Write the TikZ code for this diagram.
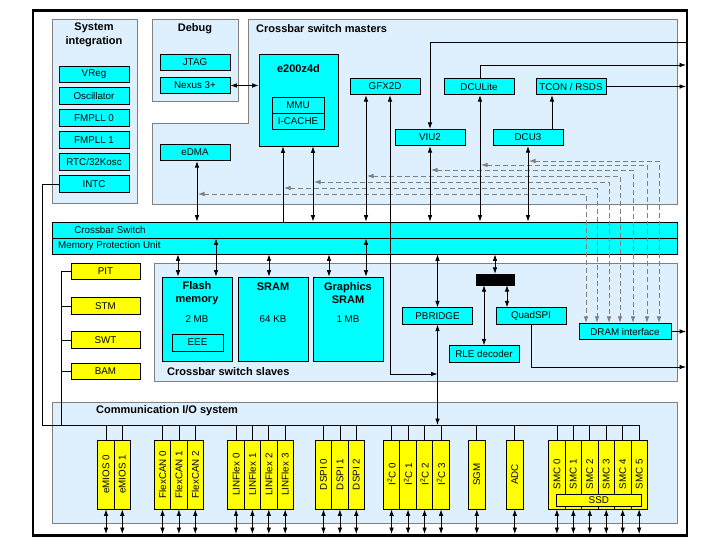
\documentclass[tikz,border=0pt]{standalone}
\usepackage{fontspec}
\setmainfont{Liberation Sans}
\usetikzlibrary{arrows.meta}
\definecolor{panelblue}{RGB}{222,239,253}
\definecolor{pgray}{RGB}{128,128,128}
\definecolor{boxcyan}{RGB}{0,255,255}
\definecolor{boxyellow}{RGB}{255,255,0}
\newcommand{\iomod}[3]{%
  \node[modbox] (#1) at (#2,474.5) {};
  \node[rotate=90] at (#1) {#3};
  \draw[conn] (#1.north |- bl) -- (#1.north);
  \draw[conn,<->] (#1.south) -- (#1.south |- fb);}
\begin{document}
\begin{tikzpicture}[x=1pt,y=-1pt,
  >={Latex[length=6.5pt,width=4.6pt]},
  every node/.style={font=\fontsize{9.8}{11}\selectfont, inner sep=0pt},
  cbox/.style={draw, fill=boxcyan, line width=0.8pt, minimum width=70pt, minimum height=16.5pt},
  ybox/.style={draw, fill=boxyellow, line width=0.8pt, minimum width=69pt, minimum height=16.5pt},
  modbox/.style={draw, fill=boxyellow, line width=0.8pt, minimum width=16.4pt, minimum height=69pt},
  panel/.style={draw=pgray, fill=panelblue, line width=0.8pt},
  ptitle/.style={font=\fontsize{11}{14}\selectfont\bfseries, align=center},
  conn/.style={line width=0.8pt},
  dline/.style={draw=pgray, dash pattern=on 5pt off 3pt, line width=0.8pt}]
\fill[white] (0,0) rectangle (715,545);
\useasboundingbox (0,0) rectangle (715,545);

% panels
\draw[panel] (52,19) rectangle (137,203);
\draw[panel] (152,19) rectangle (238,101);
\draw[panel] (248,19) -- (677,19) -- (677,204) -- (152,204) -- (152,123) -- (248,123) -- cycle;
\draw[panel] (154,263) rectangle (677,381);
\draw[panel] (52,402) rectangle (677,523);

% titles
\node[ptitle] (tsys) at (94,35) {System\\integration};
\node[ptitle] (tdbg) at (195,29) {Debug};
\node[ptitle, anchor=west] (tmas) at (256,29) {Crossbar switch masters};
\node[ptitle, anchor=west] (tsla) at (167,372) {Crossbar switch slaves};
\node[ptitle, anchor=west] (tcom) at (96,411) {Communication I/O system};

% system integration
\node[cbox] (vreg) at (94,74.5) {VReg};
\node[cbox] (osc) at (94,96) {Oscillator};
\node[cbox] (pll0) at (94,118) {FMPLL 0};
\node[cbox] (pll1) at (94,140) {FMPLL 1};
\node[cbox] (rtc) at (94,162) {RTC/32Kosc};
\node[cbox] (intc) at (94,184) {INTC};

% debug
\node[cbox] (jtag) at (195,62.5) {JTAG};
\node[cbox] (nexus) at (195,85.5) {Nexus 3+};

% masters
\node[cbox, minimum width=79pt, minimum height=92pt] (e200) at (298.5,100) {};
\node[font=\fontsize{11}{13}\selectfont\bfseries] (e200t) at (298.5,69) {e200z4d};
\node[cbox, minimum width=52pt, minimum height=16pt] (mmu) at (298,105) {MMU};
\node[cbox, minimum width=52pt, minimum height=16pt] (icache) at (298,121) {I-CACHE};
\node[cbox] (gfx) at (385,86.5) {GFX2D};
\node[cbox] (dculite) at (479,86.5) {DCULite};
\node[cbox] (tcon) at (571,86.5) {TCON / RSDS};
\node[cbox] (viu) at (430,137.5) {VIU2};
\node[cbox] (dcu3) at (528,137.5) {DCU3};
\node[cbox] (edma) at (195,152.5) {eDMA};

% crossbar
\node[cbox, minimum width=625pt, minimum height=16pt] (xbar) at (364.5,230) {};
\node[cbox, minimum width=625pt, minimum height=16pt] (mpu) at (364.5,246) {};
\node (xbart) at (110,230) {Crossbar Switch};
\node[anchor=west] (mput) at (58,246) {Memory Protection Unit};

% slaves
\node[cbox, minimum width=70pt, minimum height=84pt] (flash) at (197,319) {};
\node[ptitle, font=\fontsize{11}{13}\selectfont\bfseries] (flasht) at (197,293.5) {Flash\\memory};
\node (flashs) at (197,319) {2 MB};
\node[cbox, minimum width=51pt, minimum height=17pt] (eee) at (197.5,342.5) {EEE};
\node[cbox, minimum width=70pt, minimum height=84pt] (sram) at (273,319) {};
\node[font=\fontsize{11}{13}\selectfont\bfseries] (sramt) at (273,287) {SRAM};
\node (srams) at (273,319) {64 KB};
\node[cbox, minimum width=70pt, minimum height=84pt] (gsram) at (348,319) {};
\node[ptitle, font=\fontsize{11}{13}\selectfont\bfseries] (gsramt) at (348,293.5) {Graphics\\SRAM};
\node (gsrams) at (348,319) {1 MB};
\node[cbox] (pbridge) at (437.5,316) {PBRIDGE};
\node[cbox] (rle) at (484,354) {RLE decoder};
\node[cbox] (qspi) at (531,316) {QuadSPI};
\node[cbox, minimum width=92pt] (dram) at (625,331.5) {DRAM interface};
\node[draw, fill=black, minimum width=38pt, minimum height=11pt] (bar) at (495,279.5) {};

% left yellow boxes
\node[ybox] (pit) at (105.5,271.5) {PIT};
\node[ybox] (stm) at (105.5,306) {STM};
\node[ybox] (swt) at (105.5,340) {SWT};
\node[ybox] (bam) at (105.5,371.5) {BAM};

% coordinates
\coordinate (rf) at (686,0);
\coordinate (bl) at (42,425);
\coordinate (pb) at (61,425);
\coordinate (br) at (639.2,425);
\coordinate (fb) at (0,534);
\coordinate (viuin) at (686,42);
\coordinate (dcuout) at (686,65);
\coordinate (qsout) at (686,367);
\coordinate (gfxturn) at (437.5,374);

% dashed DRAM paths
\coordinate (d1) at (198,194);
\coordinate (d2) at (284,188);
\coordinate (d3) at (314,182);
\coordinate (d4) at (367,176);
\coordinate (d5) at (431,170);
\coordinate (d6) at (481,165);
\coordinate (d7) at (529,161);
\draw[dline,<->] (d1) -| ([xshift=-39pt]dram.north);
\draw[dline,<->] (d2) -| ([xshift=-28pt]dram.north);
\draw[dline,<->] (d3) -| ([xshift=-16pt]dram.north);
\draw[dline,<->] (d4) -| ([xshift=-5pt]dram.north);
\draw[dline,<->] (d5) -| ([xshift=8pt]dram.north);
\draw[dline,<->] (d6) -| ([xshift=22pt]dram.north);
\draw[dline,<->] (d7) -| ([xshift=34pt]dram.north);

% master connections
\draw[conn,<->] (nexus.east) -- (nexus.east -| e200.west);
\draw[conn,->] (viuin) -| (viu.north);
\draw[conn,->] ([xshift=1pt]dculite.north) |- (dcuout);
\draw[conn,->] (tcon.east) -- (tcon.east -| rf);
\draw[conn,->] ([xshift=24pt]dcu3.north) -- ([xshift=24pt]dcu3.north |- tcon.south);
\draw[conn,<->] ([xshift=2pt]edma.south) -- ([xshift=2pt]edma.south |- xbar.north);
\draw[conn,<-] ([xshift=-15.5pt]e200.south) -- ([xshift=-15.5pt]e200.south |- xbar.north);
\draw[conn,<->] ([xshift=14.5pt]e200.south) -- ([xshift=14.5pt]e200.south |- xbar.north);
\draw[conn,<->] ([xshift=-19pt]gfx.south) -- ([xshift=-19pt]gfx.south |- xbar.north);
\draw[conn,<->] ([xshift=5pt]gfx.south) |- (gfxturn);
\draw[conn,<->] (viu.south) -- (viu.south |- xbar.north);
\draw[conn,<->] ([xshift=1pt]dculite.south) -- ([xshift=1pt]dculite.south |- xbar.north);
\draw[conn,<->] (dcu3.south) -- (dcu3.south |- xbar.north);

% slave connections
\draw[conn,<->] ([xshift=-19pt]flash.north |- mpu.south) -- ([xshift=-19pt]flash.north);
\draw[conn,<->] ([xshift=19pt]flash.north |- xbar.south) -- ([xshift=19pt]flash.north);
\draw[conn,<->] ([xshift=-4pt]sram.north |- mpu.south) -- ([xshift=-4pt]sram.north);
\draw[conn,<->] ([xshift=-19pt]gsram.north |- mpu.south) -- ([xshift=-19pt]gsram.north);
\draw[conn,<->] ([xshift=18pt]gsram.north |- xbar.south) -- ([xshift=18pt]gsram.north);
\draw[conn,<->] (pbridge.north |- mpu.south) -- (pbridge.north);
\draw[conn,<->] (pbridge.south) -- (pbridge.south |- bl);
\draw[conn,<->] (bar.north |- mpu.south) -- (bar.north);
\draw[conn,<->] (bar.south -| rle.north) -- (rle.north);
\draw[conn,<->] ([xshift=-24pt]qspi.north |- bar.south) -- ([xshift=-24pt]qspi.north);
\draw[conn,->] (qspi.south) |- (qsout);
\draw[conn,->] (dram.east) -- (dram.east -| rf);

% left side buses
\draw[conn] (intc.west) -| (bl) -- (br);
\draw[conn] (pit.west) -| (pb);
\draw[conn] (stm.west) -- (stm.west -| pb);
\draw[conn] (swt.west) -- (swt.west -| pb);
\draw[conn] (bam.west) -- (bam.west -| pb);

% I/O modules
\iomod{emios0}{106}{eMIOS 0}
\iomod{emios1}{122.3}{eMIOS 1}
\iomod{can0}{162.5}{FlexCAN 0}
\iomod{can1}{178.9}{FlexCAN 1}
\iomod{can2}{195.3}{FlexCAN 2}
\iomod{lin0}{236}{LINFlex 0}
\iomod{lin1}{252.4}{LINFlex 1}
\iomod{lin2}{268.8}{LINFlex 2}
\iomod{lin3}{285.2}{LINFlex 3}
\iomod{dspi0}{323.5}{DSPI 0}
\iomod{dspi1}{339.9}{DSPI 1}
\iomod{dspi2}{356.3}{DSPI 2}
\iomod{iic0}{391.55}{I\textsuperscript{2}C 0}
\iomod{iic1}{408.05}{I\textsuperscript{2}C 1}
\iomod{iic2}{424.55}{I\textsuperscript{2}C 2}
\iomod{iic3}{441.05}{I\textsuperscript{2}C 3}
\iomod{sgm}{476.8}{SGM}
\iomod{adc}{514.8}{ADC}
\iomod{smc0}{556.9}{SMC 0}
\iomod{smc1}{573.35}{SMC 1}
\iomod{smc2}{589.8}{SMC 2}
\iomod{smc3}{606.25}{SMC 3}
\iomod{smc4}{622.7}{SMC 4}
\iomod{smc5}{639.15}{SMC 5}
\node[draw, fill=boxyellow, line width=0.8pt, minimum width=85.7pt, minimum height=12.4pt] (ssd) at (598.8,500.5) {SSD};

% outer frame
\draw[line width=2.6pt] (33,10.5) rectangle (687,535.5);
\end{tikzpicture}
\end{document}
